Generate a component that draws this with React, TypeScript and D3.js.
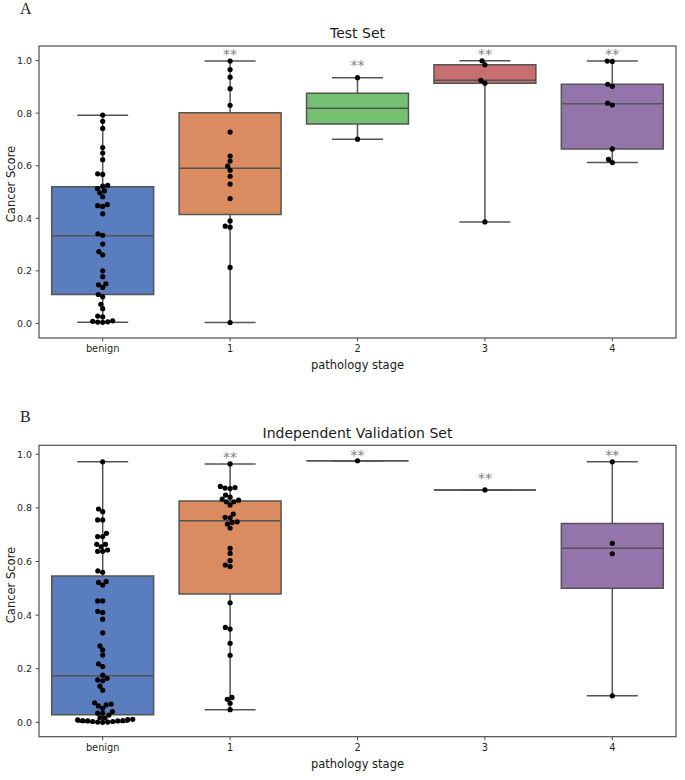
import React from 'react';
import * as d3 from 'd3';

const categories = ['benign', '1', '2', '3', '4'];
const boxColors = ['#597dbf', '#da8b5f', '#75bf71', '#c76e6e', '#9475ab'];
const yTicks = [0, 0.2, 0.4, 0.6, 0.8, 1.0];

// Panel A: Test Set
const testBenign = [0.793, 0.769, 0.742, 0.669, 0.648, 0.623, 0.569, 0.567, 0.525, 0.522, 0.513, 0.504, 0.497, 0.482, 0.452, 0.448, 0.445, 0.417, 0.341, 0.335, 0.302, 0.273, 0.261, 0.200, 0.178, 0.151, 0.147, 0.137, 0.110, 0.101, 0.073, 0.056, 0.028, 0.025, 0.010, 0.008, 0.006, 0.005, 0.004];
const testStage1 = [0.998, 0.966, 0.937, 0.893, 0.830, 0.728, 0.637, 0.618, 0.599, 0.583, 0.560, 0.530, 0.475, 0.390, 0.370, 0.366, 0.213, 0.003];
const testStage2 = [0.935, 0.701];
const testStage3 = [0.999, 0.984, 0.925, 0.914, 0.386];
const testStage4 = [0.998, 0.997, 0.910, 0.902, 0.838, 0.831, 0.664, 0.624, 0.612];
const testLow = [0.004, 0.003, 0.701, 0.386, 0.612];
const testQ1 = [0.110, 0.414, 0.759, 0.914, 0.664];
const testMedian = [0.334, 0.590, 0.819, 0.925, 0.836];
const testQ3 = [0.520, 0.802, 0.876, 0.984, 0.910];
const testHigh = [0.792, 0.998, 0.935, 0.999, 0.998];
const testSigY = [null, 1.041, 0.999, 1.041, 1.038];

// Panel B: Independent Validation Set
const valBenign = [0.972, 0.796, 0.786, 0.755, 0.755, 0.705, 0.693, 0.693, 0.664, 0.664, 0.655, 0.643, 0.638, 0.638, 0.565, 0.560, 0.525, 0.522, 0.512, 0.453, 0.453, 0.414, 0.410, 0.385, 0.334, 0.285, 0.270, 0.251, 0.218, 0.208, 0.176, 0.164, 0.158, 0.155, 0.135, 0.120, 0.073, 0.068, 0.065, 0.061, 0.052, 0.040, 0.034, 0.034, 0.027, 0.017, 0.016, 0.011, 0.010, 0.009, 0.006, 0.006, 0.005, 0.005, 0.003, 0.003, 0.001, 0.001, 0.000];
const valStage1 = [0.964, 0.880, 0.876, 0.874, 0.872, 0.848, 0.840, 0.833, 0.829, 0.823, 0.823, 0.811, 0.777, 0.765, 0.763, 0.748, 0.746, 0.740, 0.725, 0.649, 0.630, 0.603, 0.587, 0.581, 0.446, 0.354, 0.348, 0.295, 0.250, 0.093, 0.086, 0.071, 0.047];
const valStage2 = [0.976];
const valStage3 = [0.867];
const valStage4 = [0.972, 0.668, 0.629, 0.099];
const valLow = [0.000, 0.047, 0.976, 0.867, 0.099];
const valQ1 = [0.028, 0.479, 0.976, 0.867, 0.500];
const valMedian = [0.174, 0.752, 0.976, 0.867, 0.649];
const valQ3 = [0.546, 0.826, 0.976, 0.867, 0.742];
const valHigh = [0.972, 0.964, 0.976, 0.867, 0.972];
const valSigY = [null, 1.004, 1.012, 0.926, 1.012];

type PanelProps = {
  letter: string;
  title: string;
  groups: number[][];
  low: number[]; q1: number[]; med: number[]; q3: number[]; high: number[];
  sigY: (number | null)[];
  top: number; bottom: number; yMin: number; yMax: number;
  letterY: number; titleY: number; xLabelY: number; yLabelY: number;
};

const LEFT = 39;
const RIGHT = 676;
const EDGE = '#545454';
const FONT = 'DejaVu Sans, sans-serif';

function swarm(values: number[], y: (v: number) => number, cx: number, r: number) {
  const order = values.map((_, i) => i).sort((a, b) => values[a] - values[b]);
  const placed: { x: number; y: number }[] = [];
  for (const i of order) {
    const yi = y(values[i]);
    const neighbors: { x: number; y: number }[] = [];
    for (let k = placed.length - 1; k >= 0; k--) {
      if (Math.abs(yi - placed[k].y) < 2 * r) neighbors.push(placed[k]);
      else break;
    }
    const cands: number[] = [cx];
    let leftFirst = true;
    for (const n of neighbors) {
      const dy = yi - n.y;
      const dx = Math.sqrt(Math.max(4 * r * r - dy * dy, 0)) * 1.05;
      if (leftFirst) cands.push(n.x - dx, n.x + dx);
      else cands.push(n.x + dx, n.x - dx);
      leftFirst = !leftFirst;
    }
    const sorted = cands
      .map((x, k) => ({ x, k }))
      .sort((a, b) => Math.abs(a.x - cx) - Math.abs(b.x - cx) || a.k - b.k);
    let chosen = cx;
    for (const c of sorted) {
      if (neighbors.every((n) => Math.hypot(n.x - c.x, n.y - yi) >= 2 * r - 1e-6)) {
        chosen = c.x;
        break;
      }
    }
    placed.push({ x: chosen, y: yi });
  }
  return placed;
}

function Panel(p: PanelProps) {
  const x = d3.scaleBand<string>().domain(categories).range([LEFT, RIGHT]).padding(0);
  const y = d3.scaleLinear().domain([p.yMin, p.yMax]).range([p.bottom, p.top]);
  const bw = x.bandwidth() * 0.8;
  const cx = (i: number) => (x(categories[i]) as number) + x.bandwidth() / 2;
  return (
    <g>
      <text x={20} y={p.letterY} fontFamily="Liberation Serif, serif" fontSize={16} fill="#222">{p.letter}</text>
      <text x={(LEFT + RIGHT) / 2} y={p.titleY} textAnchor="middle" fontFamily={FONT} fontSize={14} fill="#1a1a1a">{p.title}</text>
      {categories.map((c, i) => {
        const xc = cx(i);
        const yq1 = y(p.q1[i]);
        const yq3 = y(p.q3[i]);
        return (
          <g key={c}>
            <line x1={xc} x2={xc} y1={yq3} y2={y(p.high[i])} stroke={EDGE} strokeWidth={1.5} />
            <line x1={xc} x2={xc} y1={yq1} y2={y(p.low[i])} stroke={EDGE} strokeWidth={1.5} />
            <line x1={xc - bw / 4} x2={xc + bw / 4} y1={y(p.high[i])} y2={y(p.high[i])} stroke={EDGE} strokeWidth={1.5} />
            <line x1={xc - bw / 4} x2={xc + bw / 4} y1={y(p.low[i])} y2={y(p.low[i])} stroke={EDGE} strokeWidth={1.5} />
            <path d={`M${xc - bw / 2},${yq3}H${xc + bw / 2}V${yq1}H${xc - bw / 2}Z`} fill={boxColors[i]} stroke={EDGE} strokeWidth={1.5} />
            <line x1={xc - bw / 2} x2={xc + bw / 2} y1={y(p.med[i])} y2={y(p.med[i])} stroke={EDGE} strokeWidth={1.5} />
          </g>
        );
      })}
      {p.groups.map((vals, i) =>
        swarm(vals, y, cx(i), 2.4).map((pt, k) => (
          <circle key={`${i}-${k}`} cx={pt.x} cy={pt.y} r={2.6} fill="#000" />
        ))
      )}
      {p.sigY.map((v, i) =>
        v == null ? null : (
          <text key={`s${i}`} x={cx(i)} y={y(v) + 8.9} textAnchor="middle" fontFamily={FONT} fontSize={14} fill="#808080">**</text>
        )
      )}
      <rect x={LEFT} y={p.top} width={RIGHT - LEFT} height={p.bottom - p.top} fill="none" stroke="#4d4d4d" strokeWidth={1.2} />
      {yTicks.map((t) => (
        <g key={t}>
          <line x1={LEFT - 3.5} x2={LEFT} y1={y(t)} y2={y(t)} stroke="#4d4d4d" strokeWidth={1} />
          <text x={LEFT - 7} y={y(t) + 3.5} textAnchor="end" fontFamily={FONT} fontSize={9.5} fill="#262626">{t.toFixed(1)}</text>
        </g>
      ))}
      {categories.map((c, i) => (
        <g key={`t${c}`}>
          <line x1={cx(i)} x2={cx(i)} y1={p.bottom} y2={p.bottom + 3.5} stroke="#4d4d4d" strokeWidth={1} />
          <text x={cx(i)} y={p.bottom + 14} textAnchor="middle" fontFamily={FONT} fontSize={9.8} fill="#262626">{c}</text>
        </g>
      ))}
      <text x={(LEFT + RIGHT) / 2} y={p.xLabelY} textAnchor="middle" fontFamily={FONT} fontSize={11.5} fill="#1a1a1a">pathology stage</text>
      <text transform={`translate(14.5,${p.yLabelY}) rotate(-90)`} textAnchor="middle" fontFamily={FONT} fontSize={11.5} fill="#1a1a1a">Cancer Score</text>
    </g>
  );
}

export default function App() {
  return (
    <svg width={685} height={780} style={{ position: 'absolute', left: 0, top: 0, background: '#fff' }}>
      <rect width={685} height={780} fill="#fff" />
      <Panel
        letter="A"
        title="Test Set"
        groups={[testBenign, testStage1, testStage2, testStage3, testStage4]}
        low={testLow} q1={testQ1} med={testMedian} q3={testQ3} high={testHigh}
        sigY={testSigY}
        top={46} bottom={338} yMin={-0.0555} yMax={1.0555}
        letterY={14} titleY={38.4} xLabelY={369} yLabelY={184}
      />
      <Panel
        letter="B"
        title="Independent Validation Set"
        groups={[valBenign, valStage1, valStage2, valStage3, valStage4]}
        low={valLow} q1={valQ1} med={valMedian} q3={valQ3} high={valHigh}
        sigY={valSigY}
        top={445.3} bottom={736.7} yMin={-0.0537} yMax={1.0336}
        letterY={421.7} titleY={438.4} xLabelY={768} yLabelY={585}
      />
    </svg>
  );
}
